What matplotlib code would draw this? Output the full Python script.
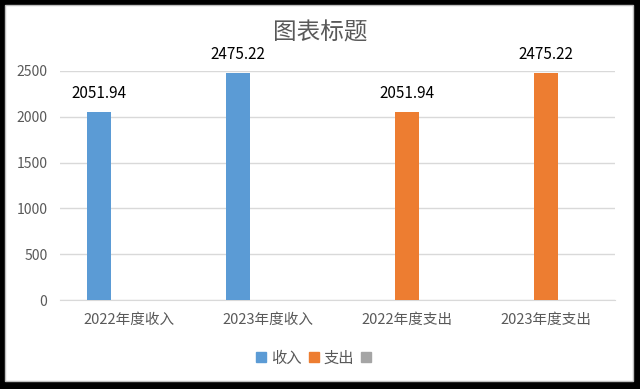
import numpy as np
import matplotlib
matplotlib.use('Agg')
import matplotlib.pyplot as plt
from matplotlib.patches import Rectangle, Patch

plt.rcParams['font.family'] = ['Noto Sans CJK SC', 'DejaVu Sans']

# data
categories = ['2022年度收入', '2023年度收入', '2022年度支出', '2023年度支出']
income = [2051.94, 2475.22, np.nan, np.nan]
expense = [np.nan, np.nan, 2051.94, 2475.22]
series_names = ['收入', '支出', '']
title = '图表标题'

blue = '#5B9BD5'
orange = '#ED7D31'
gray = '#A5A5A5'
text_gray = '#595959'
grid_gray = '#D9D9D9'

W, H = 640, 389
fig = plt.figure(figsize=(6.4, 3.89), dpi=100)
fig.patch.set_facecolor('black')

# white chart area inside black border
fig.patches.append(Rectangle((5 / W, 1 - 381 / H), 628 / W, 376 / H,
                             transform=fig.transFigure, facecolor='white',
                             edgecolor='#BFBFBF', linewidth=1, zorder=-5))

ax = fig.add_axes([60 / W, 1 - 300 / H, 555 / W, 229 / H])
ax.set_zorder(2)
ax.set_facecolor('none')

x = np.arange(len(categories))
width = 0.173
offset = 0.216

ax.bar(x - offset, income, width, color=blue, zorder=3)
ax.bar(x, expense, width, color=orange, zorder=3)

# data labels
for xs, vals in [(x - offset, income), (x, expense)]:
    for xi, v in zip(xs, vals):
        if np.isnan(v):
            continue
        ax.annotate(f'{v:.2f}', (xi, v), xytext=(0, 13.5), textcoords='offset points',
                    ha='center', va='center', fontsize=11, color='black',
                    annotation_clip=False)

ax.set_xlim(-0.5, 3.5)
ax.set_ylim(0, 2500)
ax.set_yticks([0, 500, 1000, 1500, 2000, 2500])
ax.set_xticks(x)
ax.set_xticklabels(categories)
ax.tick_params(axis='both', length=0, colors=text_gray)
ax.tick_params(axis='y', labelsize=10, pad=9)
ax.tick_params(axis='x', labelsize=10.5, pad=9)
ax.grid(axis='y', color=grid_gray, linewidth=1, zorder=0)
for s in ['top', 'right', 'left']:
    ax.spines[s].set_visible(False)
ax.spines['bottom'].set_color(grid_gray)

fig.text(320 / W, 1 - 33 / H, title, ha='center', va='center', fontsize=17, color=text_gray)

handles = [Patch(color=blue), Patch(color=orange), Patch(color=gray)]
fig.legend(handles, series_names, loc='center', bbox_to_anchor=(316 / W, 1 - 358 / H),
           ncol=3, frameon=False, fontsize=11, labelcolor=text_gray,
           handlelength=0.65, handleheight=0.65, handletextpad=0.3, columnspacing=0.5)

fig.savefig('out.png', dpi=100, facecolor=fig.get_facecolor())
